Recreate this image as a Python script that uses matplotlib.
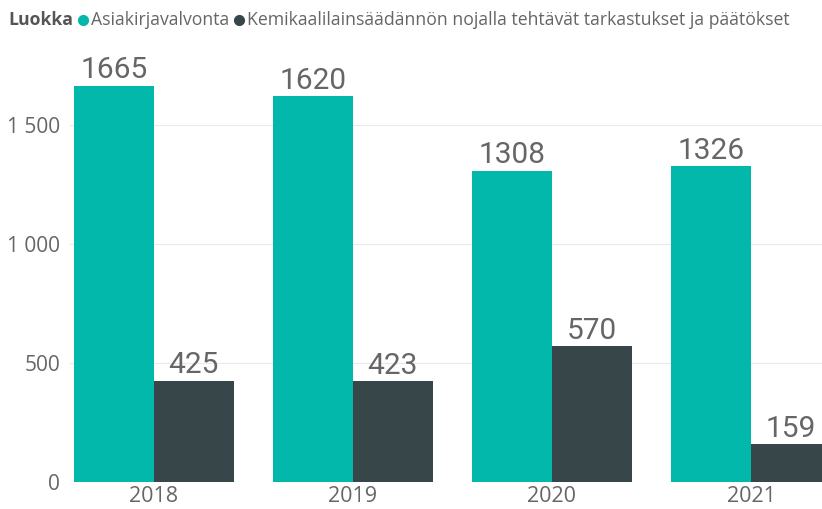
import matplotlib.pyplot as plt
from matplotlib.lines import Line2D
import numpy as np

years = ["2018", "2019", "2020", "2021"]
asiakirja = [1665, 1620, 1308, 1326]
kemikaali = [425, 423, 570, 159]
series_names = ["Asiakirjavalvonta", "Kemikaalilainsäädännön nojalla tehtävät tarkastukset ja päätökset"]
yticks = [0, 500, 1000, 1500]
ytick_labels = ["0", "500", "1 000", "1 500"]

teal = "#01B8AA"
dark = "#374649"
gray = "#666666"

plt.rcParams["font.family"] = ["Open Sans", "DejaVu Sans"]

fig = plt.figure(figsize=(8.22, 5.09), dpi=100, facecolor="white")
ax = fig.add_axes([70 / 822, 1 - 482 / 509, 1 - 70 / 822, (482 - 40) / 509])

x = np.arange(len(years))
w = 0.4
b1 = ax.bar(x - w / 2, asiakirja, width=w, color=teal, zorder=3)
b2 = ax.bar(x + w / 2, kemikaali, width=w, color=dark, zorder=3)

for bars in (b1, b2):
    for bar in bars:
        h = bar.get_height()
        ax.annotate(f"{h:.0f}", xy=(bar.get_x() + bar.get_width() / 2, h),
                    xytext=(0, 1), textcoords="offset points",
                    ha="center", va="bottom", fontsize=21.5, color=gray,
                    family=["Roboto", "DejaVu Sans"], clip_on=False)

ax.set_xlim(-0.422, 3.357)
ax.set_ylim(0, 1857)
ax.set_yticks(yticks)
ax.set_yticklabels(ytick_labels, fontsize=15, color=gray)
ax.set_xticks(x)
ax.set_xticklabels(years, fontsize=15.5, color=gray)
ax.tick_params(length=0, pad=7)
ax.tick_params(axis="x", pad=3)
ax.grid(axis="y", color="#EAEAEA", linewidth=0.8, zorder=0)
for s in ax.spines.values():
    s.set_visible(False)

# legend built from text pieces
fig.canvas.draw()
r = fig.canvas.get_renderer()
ypos = 1 - 20 / 509
xpos = 8 / 822
t = fig.text(xpos, ypos, "Luokka", fontsize=12.7, weight="bold", color="#555555", va="center")
xpos += t.get_window_extent(r).width / 822 + 6 / 822
for name, col in zip(series_names, [teal, dark]):
    fig.lines.append(Line2D([xpos + 4 / 822], [ypos], marker="o", markersize=7,
                            color=col, transform=fig.transFigure, figure=fig))
    xpos += 12 / 822
    t = fig.text(xpos, ypos, name, fontsize=12.7, color=gray, va="center")
    xpos += t.get_window_extent(r).width / 822 + 6 / 822

fig.savefig("out.png", dpi=100, facecolor="white")
